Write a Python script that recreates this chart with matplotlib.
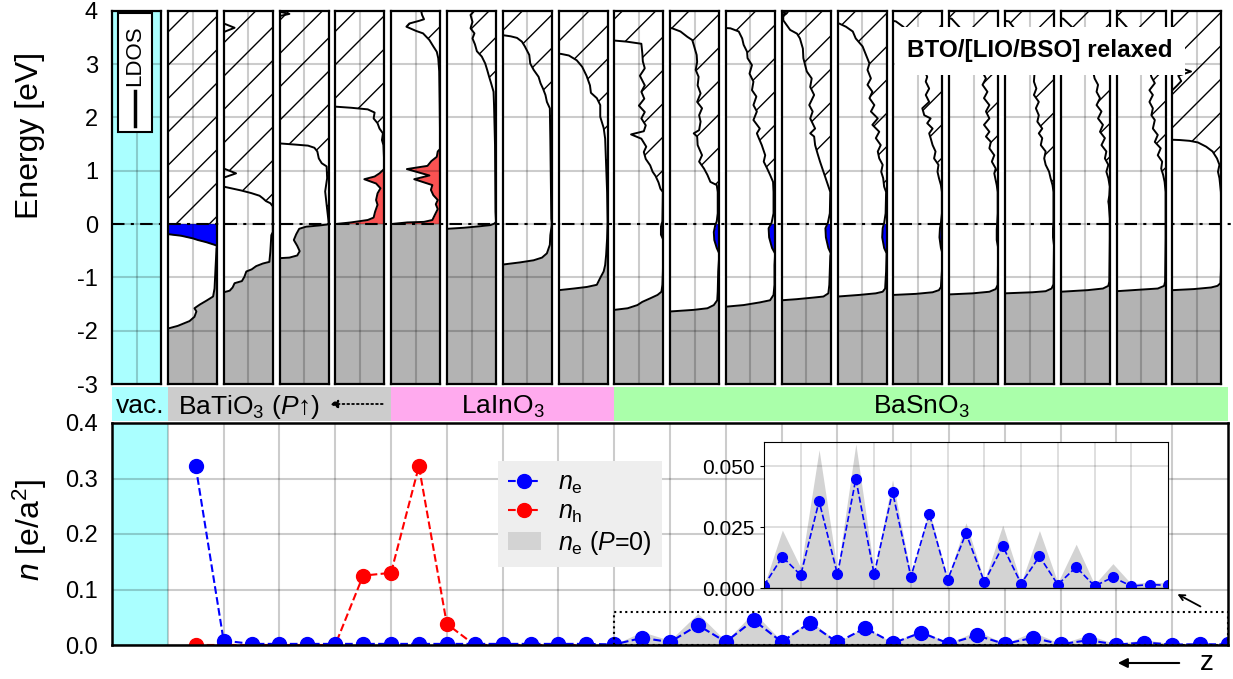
import numpy as np
import matplotlib
matplotlib.use('Agg')
import matplotlib.pyplot as plt
from matplotlib.patches import Rectangle, FancyArrowPatch
from matplotlib.lines import Line2D
from matplotlib import transforms

plt.rcParams['font.family'] = ['Liberation Sans', 'DejaVu Sans']
plt.rcParams['mathtext.fontset'] = 'custom'
plt.rcParams['mathtext.rm'] = 'Liberation Sans'
plt.rcParams['mathtext.it'] = 'Liberation Sans:italic'
plt.rcParams['mathtext.bf'] = 'Liberation Sans:bold'
plt.rcParams['axes.unicode_minus'] = False
plt.rcParams['hatch.linewidth'] = 1.0

# LDOS profiles per layer: (energy [eV], LDOS as fraction of panel width,
# measured from the right edge; values > 1 run off the panel)
bto1_vb = [(-3.0, 1.3), (-1.97, 1.05), (-1.96, 1.0), (-1.91, 0.80), (-1.82, 0.56), (-1.74, 0.46), (-1.64, 0.42),
           (-1.58, 0.46), (-1.51, 0.35), (-1.44, 0.22), (-1.36, 0.08), (-1.21, 0.05), (-0.83, 0.03),
           (-0.46, 0.01), (-0.42, 0.0)]
bto1_cb = [(-0.41, 0.0), (-0.39, 0.05), (-0.34, 0.22), (-0.30, 0.39), (-0.27, 0.49), (-0.22, 0.73),
           (-0.19, 1.0), (-0.17, 1.3), (4.0, 1.3)]
bto2_vb = [(-3.0, 1.3), (-1.29, 1.05), (-1.28, 1.0), (-1.25, 0.88), (-1.19, 0.82), (-1.11, 0.78), (-1.07, 0.63),
           (-0.99, 0.58), (-0.89, 0.54), (-0.85, 0.43), (-0.79, 0.34), (-0.74, 0.20), (-0.71, 0.07),
           (-0.52, 0.05), (-0.21, 0.03), (-0.15, 0.0)]
bto2_cb = [(0.33, 0.0), (0.39, 0.05), (0.43, 0.14), (0.48, 0.20), (0.53, 0.27), (0.58, 0.44), (0.63, 0.65),
           (0.67, 0.85), (0.70, 1.0), (0.72, 1.3), (0.85, 1.3), (0.87, 1.0), (0.95, 0.75), (1.04, 1.0),
           (1.06, 1.3), (3.58, 1.3), (3.60, 1.0), (3.68, 0.78), (3.76, 1.0), (3.78, 1.3), (4.0, 1.3)]
bto3_vb = [(-3.0, 1.3), (-0.65, 1.05), (-0.64, 0.99), (-0.63, 0.80), (-0.59, 0.64), (-0.51, 0.59), (-0.41, 0.64),
           (-0.30, 0.71), (-0.19, 0.66), (-0.09, 0.60), (-0.05, 0.46), (-0.03, 0.22), (-0.01, 0.03), (0.01, 0.0)]
bto3_cb = [(0.04, 0.0), (0.36, 0.04), (0.61, 0.07), (0.86, 0.03), (1.08, 0.04), (1.14, 0.14), (1.23, 0.20),
           (1.36, 0.23), (1.43, 0.29), (1.47, 0.42), (1.49, 0.69), (1.51, 0.98), (1.53, 1.3), (3.88, 1.3),
           (3.90, 1.0), (3.94, 0.80), (3.98, 1.0), (4.0, 1.3)]
bto4_vb = [(-3.0, 1.3), (-0.02, 1.3), (0.0, 0.99), (0.03, 0.68), (0.075, 0.34), (0.12, 0.22), (0.23, 0.19),
           (0.36, 0.14), (0.45, 0.17), (0.575, 0.14), (0.67, 0.08), (0.76, 0.17), (0.84, 0.41), (0.89, 0.20),
           (0.95, 0.10), (1.01, 0.03), (1.04, 0.0)]
bto4_cb = [(1.075, 0.0), (1.48, 0.02), (1.575, 0.05), (1.70, 0.03), (1.79, 0.10), (1.89, 0.14), (1.98, 0.22),
           (2.09, 0.20), (2.15, 0.34), (2.18, 0.68), (2.20, 0.99), (2.22, 1.3), (4.0, 1.3)]
lio1_vb = [(-3.0, 1.3), (-0.02, 1.3), (0.0, 0.99), (0.03, 0.67), (0.04, 0.33), (0.075, 0.16), (0.17, 0.11),
           (0.28, 0.05), (0.37, 0.09), (0.45, 0.05), (0.54, 0.14), (0.64, 0.19), (0.73, 0.16), (0.84, 0.53),
           (0.91, 0.22), (1.03, 0.68), (1.09, 0.26), (1.18, 0.18), (1.26, 0.07), (1.36, 0.05), (1.41, 0.0)]
lio1_cb = [(1.42, 0.0), (2.23, 0.01), (2.86, 0.02), (3.11, 0.04), (3.23, 0.07), (3.33, 0.14), (3.45, 0.22),
           (3.575, 0.35), (3.62, 0.49), (3.70, 0.69), (3.76, 0.63), (3.81, 0.43), (3.84, 0.33), (3.92, 0.37),
           (4.0, 0.39)]
lio2_vb = [(-3.0, 1.3), (-0.10, 1.3), (-0.09, 1.0), (-0.07, 0.65), (-0.04, 0.31), (-0.02, 0.11), (0.01, 0.03),
           (0.04, 0.0)]
lio2_cb = [(0.23, 0.01), (1.48, 0.02), (2.23, 0.04), (2.48, 0.05), (2.64, 0.10), (2.76, 0.14), (2.89, 0.18),
           (3.01, 0.22), (3.14, 0.29), (3.24, 0.39), (3.37, 0.43), (3.48, 0.48), (3.575, 0.44), (3.67, 0.52),
           (3.79, 0.48), (3.92, 0.52), (4.0, 0.44)]
lio3_vb = [(-3.0, 1.3), (-0.78, 1.3), (-0.76, 1.0), (-0.72, 0.65), (-0.68, 0.37), (-0.63, 0.20), (-0.55, 0.10),
           (-0.39, 0.04), (-0.21, 0.03), (-0.08, 0.01), (0.0, 0.0)]
lio3_cb = [(0.10, 0.01), (1.60, 0.03), (2.17, 0.04), (2.29, 0.10), (2.42, 0.13), (2.54, 0.18), (2.64, 0.23),
           (2.76, 0.27), (2.89, 0.37), (3.01, 0.44), (3.17, 0.46), (3.33, 0.55), (3.42, 0.61), (3.49, 0.71),
           (3.52, 0.84), (3.54, 0.99), (3.56, 1.3), (4.0, 1.3)]
lio4_vb = [(-3.0, 1.3), (-1.26, 1.3), (-1.24, 0.99), (-1.21, 0.69), (-1.18, 0.42), (-1.14, 0.22), (-1.01, 0.15),
           (-0.89, 0.08), (-0.77, 0.05), (-0.58, 0.03), (-0.27, 0.01), (0.04, 0.0)]
lio4_cb = [(0.60, 0.01), (1.10, 0.03), (1.60, 0.05), (1.80, 0.08), (1.92, 0.12), (2.01, 0.15), (2.23, 0.15),
           (2.36, 0.22), (2.46, 0.34), (2.60, 0.36), (2.78, 0.43), (2.95, 0.52), (3.07, 0.63), (3.16, 0.79),
           (3.19, 0.95), (3.21, 1.3), (4.0, 1.3)]
bso1_vb = [(-3.0, 1.3), (-1.63, 1.3), (-1.61, 1.0), (-1.58, 0.73), (-1.52, 0.53), (-1.46, 0.43), (-1.39, 0.26),
           (-1.33, 0.12), (-1.27, 0.04), (-1.14, 0.02), (-0.89, 0.01), (-0.35, 0.0)]
bso1_cb = [(-0.30, 0.0), (-0.20, 0.05), (-0.05, 0.05), (0.05, 0.02), (0.60, 0.01), (0.66, 0.06), (0.78, 0.10),
           (0.90, 0.16), (0.98, 0.22), (1.10, 0.27), (1.22, 0.36), (1.35, 0.40), (1.45, 0.35), (1.60, 0.45),
           (1.68, 0.66), (1.74, 0.40), (1.85, 0.36), (1.98, 0.45), (2.10, 0.38), (2.22, 0.50), (2.35, 0.39),
           (2.48, 0.45), (2.60, 0.38), (2.78, 0.48), (2.92, 0.38), (3.05, 0.42), (3.20, 0.43), (3.38, 0.45),
           (3.42, 0.75), (3.44, 1.0), (3.46, 1.3), (4.0, 1.3)]
bso2_vb = [(-3.0, 1.3), (-1.66, 1.3), (-1.64, 1.0), (-1.61, 0.52), (-1.58, 0.24), (-1.52, 0.11), (-1.43, 0.04),
           (-1.27, 0.03), (-0.89, 0.02), (-0.60, 0.0)]
bso2_cb = [(-0.55, 0.0), (-0.45, 0.05), (-0.30, 0.10), (-0.15, 0.11), (-0.02, 0.08), (0.05, 0.05), (0.20, 0.03),
           (0.60, 0.03), (0.73, 0.05), (0.79, 0.18), (0.92, 0.24), (1.04, 0.31), (1.17, 0.41), (1.29, 0.35),
           (1.48, 0.44), (1.64, 0.45), (1.70, 0.52), (1.76, 0.41), (1.92, 0.38), (2.04, 0.41), (2.17, 0.35),
           (2.29, 0.45), (2.45, 0.38), (2.60, 0.44), (2.76, 0.42), (2.89, 0.48), (3.04, 0.45), (3.17, 0.46),
           (3.36, 0.52), (3.45, 0.55), (3.51, 0.65), (3.61, 0.79), (3.67, 0.96), (3.70, 1.3), (4.0, 1.3)]
bso3_vb = [(-3.0, 1.3), (-1.57, 1.3), (-1.55, 1.0), (-1.52, 0.64), (-1.47, 0.31), (-1.43, 0.10), (-1.33, 0.03),
           (-1.14, 0.01), (-0.77, 0.01), (-0.60, 0.0)]
bso3_cb = [(-0.55, 0.0), (-0.45, 0.06), (-0.25, 0.12), (-0.08, 0.13), (0.02, 0.07), (0.20, 0.03), (0.60, 0.03),
           (0.79, 0.04), (0.92, 0.10), (1.04, 0.16), (1.17, 0.23), (1.29, 0.20), (1.48, 0.27), (1.61, 0.33),
           (1.70, 0.37), (1.79, 0.31), (1.95, 0.44), (2.11, 0.37), (2.23, 0.44), (2.39, 0.38), (2.51, 0.47),
           (2.67, 0.44), (2.82, 0.52), (2.98, 0.47), (3.11, 0.56), (3.23, 0.57), (3.36, 0.64), (3.48, 0.67),
           (3.61, 0.74), (3.67, 0.91), (3.69, 1.3), (4.0, 1.3)]
bso4_vb = [(-3.0, 1.3), (-1.45, 1.3), (-1.43, 1.0), (-1.41, 0.70), (-1.38, 0.36), (-1.36, 0.15), (-1.30, 0.05),
           (-1.14, 0.03), (-0.60, 0.01), (-0.55, 0.0)]
bso4_cb = [(-0.55, 0.0), (-0.45, 0.05), (-0.25, 0.10), (-0.08, 0.11), (0.02, 0.06), (0.20, 0.02), (0.60, 0.01),
           (0.79, 0.08), (0.98, 0.15), (1.17, 0.22), (1.32, 0.27), (1.48, 0.32), (1.64, 0.34), (1.70, 0.42),
           (1.79, 0.32), (1.98, 0.42), (2.11, 0.37), (2.23, 0.44), (2.42, 0.34), (2.57, 0.42), (2.73, 0.39),
           (2.86, 0.49), (3.11, 0.56), (3.29, 0.57), (3.48, 0.63), (3.57, 0.69), (3.64, 0.83), (3.73, 0.90),
           (3.82, 0.97), (3.92, 0.97), (3.95, 0.90), (3.97, 1.0), (4.0, 1.3)]
bso5_vb = [(-3.0, 1.3), (-1.38, 1.3), (-1.36, 1.0), (-1.33, 0.56), (-1.30, 0.22), (-1.27, 0.08), (-1.21, 0.03),
           (-0.89, 0.01), (-0.55, 0.0)]
bso5_cb = [(-0.55, 0.0), (-0.45, 0.05), (-0.25, 0.09), (-0.08, 0.08), (0.02, 0.05), (0.20, 0.02), (0.60, 0.01),
           (0.70, 0.05), (0.86, 0.07), (0.98, 0.11), (1.11, 0.08), (1.23, 0.15), (1.36, 0.18), (1.48, 0.12),
           (1.61, 0.22), (1.73, 0.15), (1.86, 0.29), (1.98, 0.18), (2.11, 0.32), (2.23, 0.25), (2.36, 0.35),
           (2.48, 0.29), (2.61, 0.39), (2.73, 0.32), (2.89, 0.39), (3.01, 0.35), (3.17, 0.42), (3.33, 0.49),
           (3.48, 0.63), (3.61, 0.69), (3.70, 0.83), (3.76, 0.97), (3.80, 1.3), (4.0, 1.3)]
bso6_vb = [(-3.0, 1.3), (-1.35, 1.3), (-1.33, 1.0), (-1.31, 0.54), (-1.28, 0.20), (-1.24, 0.07), (-1.18, 0.03),
           (-0.89, 0.01), (-0.55, 0.0)]
bso6_cb = [(-0.55, 0.0), (-0.45, 0.03), (-0.25, 0.06), (-0.08, 0.05), (0.02, 0.03), (0.20, 0.01), (0.60, 0.01),
           (0.73, 0.03), (0.86, 0.07), (0.98, 0.10), (1.11, 0.08), (1.23, 0.17), (1.36, 0.14), (1.48, 0.20),
           (1.61, 0.24), (1.70, 0.27), (1.79, 0.20), (1.89, 0.31), (1.98, 0.24), (2.04, 0.37), (2.17, 0.41),
           (2.29, 0.27), (2.42, 0.34), (2.54, 0.27), (2.67, 0.34), (2.76, 0.31), (2.90, 0.38), (3.10, 0.42),
           (3.30, 0.50), (3.50, 0.60), (3.70, 0.80), (3.80, 0.95), (3.85, 1.3), (4.0, 1.3)]
bso7_vb = [(-3.0, 1.3), (-1.34, 1.3), (-1.32, 1.0), (-1.30, 0.52), (-1.27, 0.18), (-1.22, 0.05), (-1.14, 0.01),
           (-0.45, 0.0)]
bso7_cb = [(-0.45, 0.0), (-0.30, 0.03), (-0.10, 0.03), (0.02, 0.02), (0.20, 0.01), (0.60, 0.01), (0.73, 0.03),
           (0.86, 0.06), (0.95, 0.08), (1.04, 0.05), (1.17, 0.13), (1.29, 0.08), (1.42, 0.18), (1.54, 0.15),
           (1.64, 0.25), (1.73, 0.18), (1.86, 0.29), (1.98, 0.18), (2.11, 0.25), (2.23, 0.18), (2.36, 0.29),
           (2.48, 0.22), (2.61, 0.32), (2.73, 0.25), (2.90, 0.35), (3.10, 0.40), (3.30, 0.48), (3.50, 0.60),
           (3.70, 0.80), (3.85, 0.95), (3.90, 1.3), (4.0, 1.3)]
bso8_vb = [(-3.0, 1.3), (-1.32, 1.3), (-1.30, 1.0), (-1.28, 0.44), (-1.26, 0.17), (-1.21, 0.05), (-1.13, 0.01),
           (-0.40, 0.0)]
bso8_cb = [(-0.40, 0.0), (-0.25, 0.02), (-0.08, 0.02), (0.05, 0.01), (0.60, 0.01), (0.73, 0.03), (0.86, 0.07),
           (0.98, 0.10), (1.11, 0.17), (1.23, 0.20), (1.36, 0.17), (1.48, 0.27), (1.61, 0.24), (1.70, 0.31),
           (1.79, 0.24), (1.92, 0.34), (2.04, 0.31), (2.17, 0.37), (2.29, 0.31), (2.42, 0.41), (2.54, 0.36),
           (2.67, 0.41), (2.80, 0.40), (3.00, 0.45), (3.20, 0.52), (3.40, 0.60), (3.60, 0.75), (3.80, 0.92),
           (3.85, 1.3), (4.0, 1.3)]
bso9_vb = [(-3.0, 1.3), (-1.29, 1.3), (-1.27, 1.0), (-1.24, 0.45), (-1.21, 0.14), (-1.16, 0.03), (-1.08, 0.01),
           (-0.27, 0.0)]
bso9_cb = [(0.10, 0.0), (0.36, 0.02), (0.42, 0.03), (0.54, 0.01), (0.70, 0.0), (0.86, 0.03), (0.98, 0.07),
           (1.11, 0.03), (1.23, 0.10), (1.36, 0.07), (1.48, 0.17), (1.61, 0.10), (1.73, 0.20), (1.86, 0.14),
           (1.98, 0.24), (2.11, 0.17), (2.23, 0.27), (2.36, 0.20), (2.48, 0.27), (2.61, 0.24), (2.73, 0.31),
           (2.90, 0.35), (3.10, 0.42), (3.30, 0.50), (3.50, 0.60), (3.70, 0.78), (3.85, 0.95), (3.90, 1.3),
           (4.0, 1.3)]
bso10_vb = [(-3.0, 1.3), (-1.28, 1.3), (-1.26, 1.0), (-1.23, 0.50), (-1.21, 0.16), (-1.16, 0.03), (-1.08, 0.01),
            (-0.27, 0.0)]
bso10_cb = [(0.60, 0.0), (0.79, 0.02), (0.92, 0.05), (1.04, 0.09), (1.17, 0.07), (1.29, 0.16), (1.42, 0.10),
            (1.54, 0.22), (1.67, 0.16), (1.79, 0.26), (1.95, 0.22), (2.04, 0.29), (2.17, 0.26), (2.29, 0.33),
            (2.42, 0.26), (2.51, 0.33), (2.64, 0.22), (2.76, 0.29), (2.90, 0.33), (3.10, 0.40), (3.30, 0.50),
            (3.50, 0.62), (3.70, 0.80), (3.85, 0.95), (3.90, 1.3), (4.0, 1.3)]
bso11_vb = [(-3.0, 1.3), (-1.26, 1.3), (-1.24, 0.99), (-1.22, 0.56), (-1.19, 0.21), (-1.16, 0.08), (-1.11, 0.02),
            (-0.89, 0.01), (-0.27, 0.0)]
bso11_cb = [(0.10, 0.0), (0.60, 0.01), (0.86, 0.04), (0.98, 0.07), (1.11, 0.04), (1.23, 0.09), (1.36, 0.18),
            (1.45, 0.31), (1.53, 0.48), (1.56, 0.65), (1.575, 0.85), (1.58, 1.0), (1.60, 1.3), (2.49, 1.3),
            (2.51, 1.0), (2.60, 0.90), (2.68, 0.82), (2.78, 0.88), (2.86, 0.62), (2.92, 0.82), (2.95, 1.0),
            (2.97, 1.3), (4.0, 1.3)]

# carrier densities per layer (BaTiO3 surface -> BaSnO3)
ne = [0.322, 0.008, 0.002, 0.002, 0.002, 0.002, 0.002, 0.002, 0.002, 0.002, 0.002, 0.002, 0.002, 0.002, 0.002,
      0.001, 0.0128, 0.0053, 0.0357, 0.0056, 0.0448, 0.0056, 0.0395, 0.0046, 0.0305, 0.0034, 0.0225, 0.0025,
      0.0172, 0.0018, 0.0130, 0.0014, 0.0086, 0.0008, 0.0044, 0.0008, 0.0014, 0.0011]
nh = [0.0, 0.0, 0.0, 0.0, 0.0, 0.0, 0.125, 0.130, 0.322, 0.038, 0.0, 0.0, 0.0, 0.0, 0.0]
ne_p0 = [0.001, 0.0238, 0.0083, 0.0568, 0.007, 0.0592, 0.007, 0.0445, 0.0056, 0.032, 0.004, 0.0268, 0.003,
         0.0258, 0.0022, 0.0236, 0.0022, 0.018, 0.0015, 0.010, 0.0017, 0.0025, 0.002]

materials = ['BaTiO$_3$ ($P$↑)', 'LaInO$_3$', 'BaSnO$_3$']
material_span = [(0, 4), (4, 8), (8, 19)]

panel_vb = [bto1_vb, bto2_vb, bto3_vb, bto4_vb, lio1_vb, lio2_vb, lio3_vb, lio4_vb, bso1_vb, bso2_vb, bso3_vb,
            bso4_vb, bso5_vb, bso6_vb, bso7_vb, bso8_vb, bso9_vb, bso10_vb, bso11_vb]
panel_cb = [bto1_cb, bto2_cb, bto3_cb, bto4_cb, lio1_cb, lio2_cb, lio3_cb, lio4_cb, bso1_cb, bso2_cb, bso3_cb,
            bso4_cb, bso5_cb, bso6_cb, bso7_cb, bso8_cb, bso9_cb, bso10_cb, bso11_cb]

x_layers = np.arange(1, len(ne) + 1) * 0.5
x_p0 = x_layers[-len(ne_p0):]

VAC = '#aaffff'
GRAY = '#b3b3b3'
W, H = 1233, 679


def box(x0, y0, x1, y1):
    return [x0 / W, 1 - y1 / H, (x1 - x0) / W, (y1 - y0) / H]


def style_panel(ax):
    ax.set_xlim(1, 0)
    ax.set_ylim(-3, 4)
    ax.set_xticks([0.5])
    ax.set_yticks(range(-3, 5))
    ax.tick_params(length=0, labelbottom=False, labelleft=False)
    ax.grid(True, color='black', alpha=0.2, lw=1.5)
    ax.set_axisbelow('line')
    for s in ax.spines.values():
        s.set_linewidth(1.6)


def draw_ldos(ax, vb, cb):
    e_vb, d_vb = np.array(vb).T
    e_cb, d_cb = np.array(cb).T
    below = Rectangle((0, -3), 1, 3, transform=ax.transData)
    above = Rectangle((0, 0), 1, 4, transform=ax.transData)
    f = ax.fill_betweenx(e_vb, 0, d_vb, color='#fa5252', lw=0)
    f.set_clip_path(above)
    f = ax.fill_betweenx(e_vb, 0, d_vb, color=GRAY, lw=0)
    f.set_clip_path(below)
    f = ax.fill_betweenx(e_cb, 0, d_cb, color='blue', lw=0)
    f.set_clip_path(below)
    f = ax.fill_betweenx(e_cb, 0, d_cb, facecolor='white', edgecolor='black', hatch='/', lw=0)
    f.set_clip_path(above)
    ax.plot(np.r_[d_vb, d_cb], np.r_[e_vb, e_cb], color='black', lw=1.4)


fig = plt.figure(figsize=(W / 100, H / 100), dpi=100)

pitch = 55.8
top_y0, top_y1 = 10.7, 384

# vacuum panel
ax_vac = fig.add_axes(box(112, top_y0, 161, top_y1))
style_panel(ax_vac)
ax_vac.set_facecolor(VAC)
ax_vac.tick_params(labelleft=True, labelsize=17, pad=10)
ax_vac.add_patch(Rectangle((0.13, 0.675), 0.68, 0.32, transform=ax_vac.transAxes,
                           fc='white', ec='black', lw=1.5, zorder=5))
ax_vac.text(0.47, 0.88, 'LDOS', transform=ax_vac.transAxes, rotation=90,
            ha='center', va='center', fontsize=16, zorder=6)
ax_vac.add_line(Line2D([0.47, 0.47], [0.69, 0.785], transform=ax_vac.transAxes,
                       color='black', lw=2.5, zorder=6))

for i, (vb, cb) in enumerate(zip(panel_vb, panel_cb)):
    x0 = 168 + pitch * i
    ax = fig.add_axes(box(x0, top_y0, x0 + 49, top_y1))
    style_panel(ax)
    draw_ldos(ax, vb, cb)

# Fermi level across all panels
tr = transforms.blended_transform_factory(fig.transFigure, ax_vac.transData)
fig.add_artist(Line2D([112 / W, 1.0], [0, 0], transform=tr, color='black', lw=1.5,
                      ls=(0, (6, 3, 1.5, 3)), zorder=5))

fig.text(1040 / W, 1 - 51 / H, 'BTO/[LIO/BSO] relaxed', fontsize=17.5, weight='bold',
         ha='center', va='center', zorder=10,
         bbox=dict(fc='white', ec='none', pad=9))

fig.text(0.024, 0.80, 'Energy [eV]', rotation=90, ha='center', va='center', fontsize=23)
fig.text(0.024, 0.22, r'$n$ [e/a$^2$]', rotation=90, ha='center', va='center', fontsize=23)

# material strip
ax_s = fig.add_axes(box(112, 387, 1228, 421))
ax_s.set_xlim(-1, 19)
ax_s.set_ylim(0, 1)
ax_s.axis('off')
ax_s.axvspan(-1, 0, color=VAC, lw=0)
ax_s.text(-0.5, 0.45, 'vac.', ha='center', va='center', fontsize=19)
for name, (a, b), c in zip(materials, material_span, ['#cccccc', '#ffaaee', '#aaffaa']):
    ax_s.axvspan(a, b, color=c, lw=0)
for name, xc in zip(materials, [1.45, 6.0, 13.5]):
    ax_s.text(xc, 0.42, name, ha='center', va='center', fontsize=19)
ax_s.annotate('', xy=(2.85, 0.5), xytext=(3.9, 0.5),
              arrowprops=dict(arrowstyle='-|>', ls=':', lw=1.3, color='black', mutation_scale=12))

# carrier densities
ax_n = fig.add_axes(box(112, 423, 1228, 645))
ax_n.set_xlim(-1, 19)
ax_n.set_ylim(0, 0.4)
ax_n.axvspan(-1, 0, color=VAC, lw=0, zorder=0)
f_p0 = ax_n.fill_between(x_p0, 0, ne_p0, color='lightgray', lw=0)
l_nh, = ax_n.plot(x_layers[:len(nh)], nh, '--o', color='red', lw=1.5, ms=10)
l_ne, = ax_n.plot(x_layers, ne, '--o', color='blue', lw=1.5, ms=10)
ax_n.set_xticks(range(0, 19))
ax_n.set_yticks([0, 0.1, 0.2, 0.3, 0.4])
ax_n.tick_params(length=0, labelbottom=False, labelsize=17, pad=10)
ax_n.grid(True, color='black', alpha=0.2, lw=1.5)
ax_n.set_axisbelow('line')
for s in ax_n.spines.values():
    s.set_linewidth(1.8)
ax_n.legend([l_ne, l_nh, f_p0], [r'$n_\mathrm{e}$', r'$n_\mathrm{h}$', r'$n_\mathrm{e}$ ($P$=0)'],
            loc='upper left', bbox_to_anchor=(0.346, 0.83), borderaxespad=0, fontsize=18,
            facecolor='#eeeeee', edgecolor='none', framealpha=1, fancybox=False,
            handlelength=1.3, handletextpad=0.7, labelspacing=0.15, borderpad=0.4)

# inset with zoom on BaSnO3
ins_xlim, ins_ylim = (8, 19), (0, 0.06)
ax_n.add_patch(Rectangle((ins_xlim[0], ins_ylim[0]), ins_xlim[1] - ins_xlim[0], ins_ylim[1] - ins_ylim[0],
                         fill=False, ls=':', lw=1.5, ec='black', zorder=4))
ax_n.annotate('', xy=(18.05, 0.094), xytext=(18.55, 0.067),
              arrowprops=dict(arrowstyle='->', lw=1.3, color='black'))

ax_i = fig.add_axes(box(764, 442, 1168, 588))
ax_i.fill_between(x_p0, 0, ne_p0, color='lightgray', lw=0)
ax_i.plot(x_p0, ne[-len(ne_p0):], '--o', color='blue', lw=1.2, ms=7)
ax_i.set_xlim(*ins_xlim)
ax_i.set_ylim(*ins_ylim)
ax_i.set_xticks(range(9, 19))
ax_i.set_yticks([0, 0.025, 0.05])
ax_i.set_yticklabels(['0.000', '0.025', '0.050'])
ax_i.tick_params(axis='x', length=0, labelbottom=False)
ax_i.tick_params(axis='y', length=3, labelsize=15)
ax_i.grid(True, color='black', alpha=0.15, lw=1.2)
ax_i.set_axisbelow('line')

# growth direction
fig.add_artist(FancyArrowPatch((1182 / W, 1 - 663 / H), (1115 / W, 1 - 663 / H),
                               transform=fig.transFigure, arrowstyle='-|>',
                               mutation_scale=14, lw=1.5, color='black'))
fig.text(1207 / W, 1 - 663 / H, 'z', ha='center', va='center', fontsize=20)

fig.savefig('out.png', dpi=100)
